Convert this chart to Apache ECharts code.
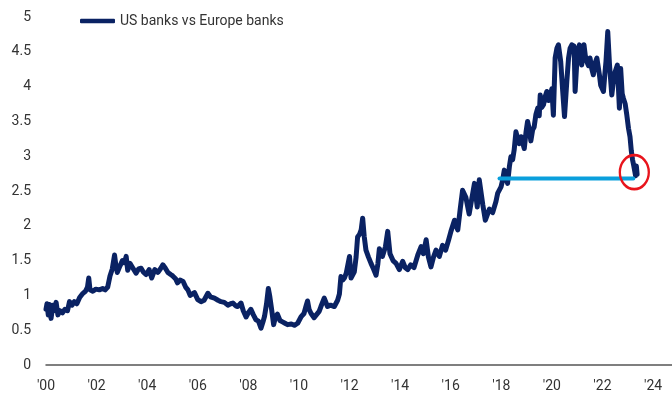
<!DOCTYPE html>
<html><head><meta charset="utf-8">
<script src="https://cdn.jsdelivr.net/npm/echarts@6/dist/echarts.min.js"></script>
<style>html,body{margin:0;padding:0;background:#fff}#c{width:672px;height:396px}</style>
</head><body><div id="c"></div>
<script>
const seriesName = 'US banks vs Europe banks';
const xTickLabels = ["'00","'02","'04","'06","'08","'10","'12","'14","'16","'18","'20","'22","'24"];
const ratio = [
[2000.00,0.80],[2000.04,0.88],[2000.09,0.72],[2000.14,0.87],[2000.20,0.67],[2000.27,0.86],[2000.33,0.78],[2000.40,0.90],[2000.47,0.72],[2000.55,0.78],[2000.65,0.75],[2000.75,0.80],[2000.85,0.78],[2000.93,0.91],
[2001.03,0.86],[2001.12,0.91],[2001.22,0.88],[2001.33,0.97],[2001.46,1.03],[2001.56,1.06],[2001.64,1.12],[2001.69,1.25],[2001.74,1.08],[2001.85,1.06],[2001.97,1.09],
[2002.11,1.08],[2002.24,1.10],[2002.34,1.08],[2002.44,1.12],[2002.53,1.28],[2002.62,1.38],[2002.71,1.58],[2002.76,1.44],[2002.82,1.33],[2002.92,1.42],
[2003.02,1.50],[2003.10,1.47],[2003.17,1.56],[2003.23,1.36],[2003.32,1.46],[2003.42,1.40],[2003.56,1.32],[2003.66,1.38],[2003.76,1.39],[2003.86,1.33],[2003.96,1.30],
[2004.08,1.37],[2004.18,1.25],[2004.30,1.37],[2004.42,1.33],[2004.52,1.38],[2004.62,1.44],[2004.72,1.39],[2004.82,1.33],[2004.93,1.30],
[2005.01,1.28],[2005.12,1.24],[2005.20,1.18],[2005.30,1.22],[2005.42,1.20],[2005.52,1.12],[2005.61,1.08],[2005.70,1.00],[2005.76,0.98],[2005.87,1.04],
[2006.00,0.94],[2006.13,0.91],[2006.25,0.93],[2006.40,1.03],[2006.50,0.98],[2006.66,0.96],[2006.80,0.93],[2006.92,0.91],
[2007.05,0.90],[2007.19,0.86],[2007.30,0.88],[2007.39,0.89],[2007.50,0.85],[2007.58,0.84],[2007.71,0.89],[2007.80,0.78],[2007.91,0.69],
[2008.00,0.75],[2008.10,0.80],[2008.20,0.72],[2008.30,0.65],[2008.40,0.63],[2008.50,0.53],[2008.58,0.62],[2008.64,0.70],[2008.72,0.88],[2008.79,1.10],[2008.85,0.98],[2008.92,0.80],
[2009.00,0.58],[2009.08,0.70],[2009.15,0.73],[2009.25,0.64],[2009.35,0.62],[2009.45,0.60],[2009.55,0.58],[2009.70,0.59],[2009.82,0.57],[2009.95,0.60],
[2010.08,0.69],[2010.20,0.74],[2010.29,0.86],[2010.34,0.92],[2010.40,0.80],[2010.48,0.74],[2010.60,0.68],[2010.67,0.67],[2010.80,0.77],[2010.87,0.84],
[2011.00,0.96],[2011.13,0.84],[2011.25,0.86],[2011.40,0.84],[2011.53,0.93],[2011.60,1.02],[2011.66,1.27],[2011.73,1.22],[2011.80,1.25],[2011.87,1.32],
[2012.00,1.56],[2012.06,1.25],[2012.19,1.34],[2012.26,1.55],[2012.32,1.84],[2012.40,1.88],[2012.46,1.94],[2012.52,2.11],[2012.58,1.85],[2012.65,1.65],[2012.75,1.55],[2012.85,1.46],[2012.95,1.38],
[2013.05,1.29],[2013.12,1.45],[2013.18,1.67],[2013.30,1.56],[2013.42,1.70],[2013.51,1.92],[2013.60,1.60],[2013.72,1.50],[2013.84,1.46],[2013.97,1.37],
[2014.10,1.49],[2014.20,1.40],[2014.30,1.37],[2014.42,1.44],[2014.55,1.40],[2014.70,1.58],[2014.83,1.70],[2014.92,1.60],
[2015.03,1.80],[2015.12,1.55],[2015.22,1.41],[2015.32,1.55],[2015.42,1.65],[2015.55,1.56],[2015.68,1.72],[2015.80,1.65],[2015.92,1.80],
[2016.01,1.92],[2016.15,2.08],[2016.28,1.94],[2016.38,2.25],[2016.47,2.51],[2016.60,2.41],[2016.73,2.17],[2016.94,2.61],
[2017.05,2.27],[2017.13,2.66],[2017.27,2.30],[2017.37,2.08],[2017.53,2.24],[2017.66,2.19],[2017.79,2.35],[2017.86,2.47],[2017.99,2.56],
[2018.05,2.65],[2018.12,2.80],[2018.18,2.70],[2018.25,2.61],[2018.32,2.85],[2018.38,2.99],[2018.45,2.95],[2018.51,3.09],[2018.58,3.35],[2018.65,3.25],[2018.71,3.18],[2018.78,3.28],[2018.84,3.30],[2018.91,3.11],[2018.98,3.35],
[2019.04,3.50],[2019.10,3.40],[2019.17,3.22],[2019.24,3.38],[2019.30,3.42],[2019.37,3.60],[2019.44,3.69],[2019.50,3.58],[2019.54,3.88],[2019.60,3.70],[2019.67,3.74],[2019.74,3.86],[2019.80,3.93],[2019.87,3.80],[2019.93,3.85],
[2020.00,3.97],[2020.06,3.59],[2020.13,4.41],[2020.20,4.55],[2020.26,4.60],[2020.35,4.36],[2020.43,3.93],[2020.50,3.57],[2020.59,4.07],[2020.66,4.41],[2020.72,4.55],[2020.79,4.60],[2020.88,4.58],[2020.92,3.93],[2020.98,4.31],
[2021.04,4.50],[2021.09,4.60],[2021.18,4.31],[2021.27,4.60],[2021.32,4.45],[2021.38,4.36],[2021.45,4.30],[2021.51,4.41],[2021.58,4.25],[2021.64,4.17],[2021.72,4.35],[2021.78,4.41],[2021.88,4.17],[2021.93,4.02],
[2022.04,3.93],[2022.10,4.20],[2022.14,4.36],[2022.21,4.79],[2022.28,4.31],[2022.37,3.88],[2022.44,4.10],[2022.50,4.21],[2022.59,4.31],[2022.67,3.69],[2022.72,4.26],[2022.78,3.90],[2022.83,3.83],[2022.90,3.75],[2022.96,3.60],
[2023.03,3.40],[2023.09,3.28],[2023.14,3.08],[2023.19,2.95],[2023.24,2.86],[2023.28,2.78],[2023.31,2.72],[2023.34,2.86],[2023.37,2.74]
];
const supportLevel = [[2017.93,2.68],[2023.22,2.68]];
const highlightPoint = [2023.26,2.77];

const chart = echarts.init(document.getElementById('c'), null, {renderer:'canvas'});
const font = "Roboto, 'Noto Sans', sans-serif";
chart.setOption({
  animation:false,
  backgroundColor:'#fff',
  grid:{left:46,right:0,top:17,bottom:31,containLabel:false},
  legend:{
    data:[{name:seriesName, icon:'roundRect'}],
    left:80, top:14, padding:0, itemWidth:35, itemHeight:4.5,
    textStyle:{fontFamily:font,fontSize:14,color:'#333'}
  },
  xAxis:{
    type:'value', min:2000, max:2024.75, interval:2,
    axisLine:{show:true,lineStyle:{color:'#555',width:1.5}},
    axisTick:{show:false}, splitLine:{show:false},
    axisLabel:{margin:14,fontFamily:font,fontSize:14,color:'#333',showMaxLabel:false,
      formatter:function(v){const i=(v-2000)/2;return (Number.isInteger(i)&&xTickLabels[i])?xTickLabels[i]:'';}}
  },
  yAxis:{
    type:'value', min:0, max:5, interval:0.5,
    axisLine:{show:false}, axisTick:{show:false}, splitLine:{show:false},
    axisLabel:{margin:15,fontFamily:font,fontSize:14,color:'#333'}
  },
  series:[
    {name:seriesName,type:'line',data:ratio,symbol:'none',z:2,
     lineStyle:{color:'#0a2263',width:5,cap:'round',join:'round'},itemStyle:{color:'#0a2263'}},
    {name:'level',type:'line',data:supportLevel,symbol:'none',z:3,silent:true,
     lineStyle:{color:'#0a9fdc',width:4,cap:'round'},
     markPoint:{silent:true,data:[{coord:highlightPoint,symbol:'circle',symbolSize:[29,34],
       itemStyle:{color:'rgba(0,0,0,0)',borderColor:'#e8141c',borderWidth:2.5},label:{show:false}}]}}
  ]
});
</script></body></html>
